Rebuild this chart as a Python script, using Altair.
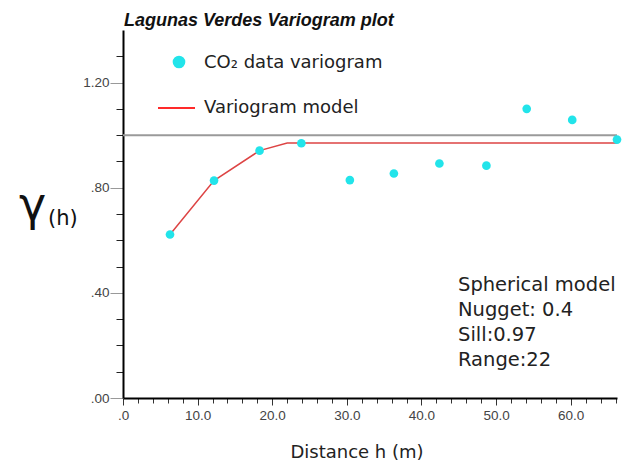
import altair as alt
import pandas as pd

# Experimental variogram (CO2 data)
lag_dist = [6.3, 12.2, 18.3, 23.9, 30.4, 36.3, 42.4, 48.7, 54.1, 60.2, 66.2]
gamma_vals = [0.622, 0.827, 0.941, 0.969, 0.829, 0.854, 0.892, 0.884, 1.10, 1.058, 0.983]

# Model line
model_dist = [6.3, 12.2, 18.3, 22.0, 66.2]
model_gamma = [0.622, 0.827, 0.941, 0.970, 0.970]

sill_ref = [1.0]

x_ticks = list(range(0, 67, 2))
y_ticks = [0, 0.1, 0.2, 0.3, 0.4, 0.5, 0.6, 0.7, 0.8, 0.9, 1.0, 1.1, 1.2, 1.3]

notes = ["Spherical model", "Nugget: 0.4", "Sill:0.97", "Range:22"]

W, H = 494, 368
CYAN = "#22e4ea"
RED = "#dd4444"
FONT = "DejaVu Sans"

pts = pd.DataFrame({"d": lag_dist, "g": gamma_vals})
mdl = pd.DataFrame({"d": model_dist, "g": model_gamma})
ref = pd.DataFrame({"g": sill_ref})

xscale = alt.Scale(domain=[0, 66.2], nice=False, zero=False)
yscale = alt.Scale(domain=[0, 1.4], nice=False)

xaxis = alt.Axis(
    values=x_ticks,
    labelExpr="datum.value % 10 == 0 ? (datum.value == 0 ? '.0' : format(datum.value, '.1f')) : ''",
    domainColor="black", domainWidth=2,
    tickColor="#333", tickWidth=1,
    tickSize={"condition": {"test": "datum.value % 10 == 0", "value": 7}, "value": 5},
    labelFont="Liberation Sans", labelFontSize=13.5, labelColor="#444",
    labelPadding=3, grid=False, title=None, labelFlush=False,
)
yaxis = alt.Axis(
    values=y_ticks,
    labelExpr="round(datum.value*10) % 4 == 0 ? (datum.value < 1 ? replace(format(datum.value, '.2f'), '0.', '.') : format(datum.value, '.2f')) : ''",
    domainColor="black", domainWidth=2,
    tickColor={"condition": {"test": "round(datum.value*10) % 4 == 0", "value": "#999"}, "value": "#222"},
    tickSize={"condition": {"test": "round(datum.value*10) % 4 == 0", "value": 13}, "value": 7},
    tickWidth=1,
    labelFont="Liberation Sans", labelFontSize=13.5, labelColor="#444",
    labelPadding=1, grid=False, title=None, labelFlush=False,
)

ref_rule = alt.Chart(ref).mark_rule(color="#9a9a9a", strokeWidth=2).encode(
    y=alt.Y("g:Q", scale=yscale, axis=yaxis),
    x=alt.value(0), x2=alt.value(W),
)

model_line = alt.Chart(mdl).mark_line(color=RED, strokeWidth=1.5).encode(
    x=alt.X("d:Q", scale=xscale, axis=xaxis),
    y=alt.Y("g:Q", scale=yscale, axis=yaxis),
)

points = alt.Chart(pts).mark_circle(size=75, color=CYAN, opacity=1).encode(
    x=alt.X("d:Q", scale=xscale, axis=xaxis),
    y=alt.Y("g:Q", scale=yscale, axis=yaxis),
)

one = pd.DataFrame({"a": [0]})

# Legend (manual)
leg_pt = alt.Chart(one).mark_circle(size=160, color=CYAN, opacity=1).encode(
    x=alt.value(56), y=alt.value(32)
)
leg_txt1 = alt.Chart(one).mark_text(
    align="left", baseline="middle", font=FONT, fontSize=18, color="#222"
).encode(x=alt.value(81), y=alt.value(33), text=alt.value("CO₂ data variogram"))
leg_line = alt.Chart(one).mark_rule(color="#ff2a2a", strokeWidth=2).encode(
    x=alt.value(35), x2=alt.value(72), y=alt.value(78)
)
leg_txt2 = alt.Chart(one).mark_text(
    align="left", baseline="middle", font=FONT, fontSize=18, color="#222"
).encode(x=alt.value(81), y=alt.value(78), text=alt.value("Variogram model"))

# Annotation block
note_layers = []
for i, t in enumerate(notes):
    note_layers.append(
        alt.Chart(one).mark_text(
            align="left", baseline="middle", font=FONT, fontSize=19.5, color="#222"
        ).encode(x=alt.value(335), y=alt.value(255 + i * 25), text=alt.value(t))
    )

title_txt = alt.Chart(one).mark_text(
    align="left", baseline="alphabetic", font="Liberation Sans", fontSize=18,
    fontStyle="italic", fontWeight="bold", color="#111"
).encode(x=alt.value(1), y=alt.value(-4), text=alt.value("Lagunas Verdes Variogram plot"))

xtitle = alt.Chart(one).mark_text(
    align="center", baseline="middle", font=FONT, fontSize=18, color="#222"
).encode(x=alt.value(234), y=alt.value(423), text=alt.value("Distance h (m)"))

gam = alt.Chart(one).mark_text(
    align="left", baseline="alphabetic", font=FONT, fontSize=46, color="#111"
).encode(x=alt.value(-104), y=alt.value(190), text=alt.value("γ"))
gam_h = alt.Chart(one).mark_text(
    align="left", baseline="alphabetic", font=FONT, fontSize=21, color="#111"
).encode(x=alt.value(-75), y=alt.value(195), text=alt.value("(h)"))

chart = alt.layer(
    ref_rule, model_line, points, leg_pt, leg_txt1, leg_line, leg_txt2,
    *note_layers, title_txt, xtitle, gam, gam_h
).properties(
    width=W, height=H,
    autosize=alt.AutoSizeParams(type="none"),
    padding={"left": 123, "top": 30, "right": 9, "bottom": 68},
).configure_view(stroke=None)

chart.save("out.html", embed_options={"renderer": "svg", "actions": False})
